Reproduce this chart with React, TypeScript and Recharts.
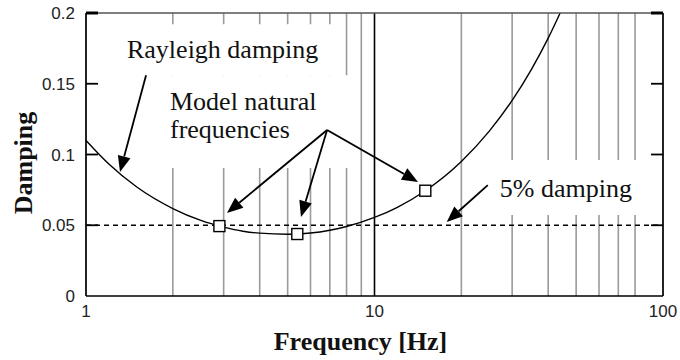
import { ComposedChart, Line, Scatter, XAxis, YAxis, CartesianGrid, ReferenceLine, ReferenceArea, ReferenceDot } from 'recharts';

// Rayleigh damping curve
const freqs = [1, 1.2, 1.5, 2, 2.5, 3, 3.5, 4, 5, 6, 7, 8, 10, 12, 15, 20, 25, 30, 35, 40, 44];
const damping = [0.11, 0.0933, 0.077, 0.0618, 0.0534, 0.0487, 0.0458, 0.0444, 0.0436, 0.0445, 0.0465, 0.0491, 0.0555, 0.0627, 0.0744, 0.0951, 0.1165, 0.1382, 0.1602, 0.1822, 0.2];

// model natural frequencies (square markers)
const modeFreqs = [2.9, 5.4, 15];
const modeDamping = [0.0494, 0.0438, 0.0744];

const gridTicks = [1, 2, 3, 4, 5, 6, 7, 8, 9, 10, 20, 30, 40, 50, 60, 70, 80, 90, 100];
const xLabels = [1, 10, 100];
const yTicks = [0, 0.05, 0.1, 0.15, 0.2];
const yMax = 0.2;
const targetDamping = 0.05;

const curve = freqs.map((f, i) => ({ f, d: damping[i] }));
const modes = modeFreqs.map((f, i) => ({ f, d: modeDamping[i] }));

const W = 680;
const H = 360;
const margin = { top: 13, right: 17, bottom: 0, left: 0 };
const yAxisWidth = 86;
const xAxisHeight = 64;
const plot = {
  left: margin.left + yAxisWidth,
  top: margin.top,
  right: W - margin.right,
  bottom: H - margin.bottom - xAxisHeight,
};

const serif = '"Liberation Serif", "Times New Roman", serif';
const sans = '"Liberation Sans", Arial, sans-serif';

// annotation layout (data coordinates)
const whiteBoxes = [
  { x1: 1.5, x2: 7.6, y1: 0.156, y2: 0.192 },
  { x1: 1.9, x2: 8.5, y1: 0.0905, y2: 0.156 },
  { x1: 24, x2: 98, y1: 0.0572, y2: 0.0961 },
];
const notes = [
  { x: 1.387, y: 0.1682, text: 'Rayleigh damping' },
  { x: 1.955, y: 0.1314, text: 'Model natural' },
  { x: 1.955, y: 0.1117, text: 'frequencies' },
  { x: 27.2, y: 0.07, text: '5% damping' },
];
const arrows = [
  [{ x: 1.615, y: 0.156 }, { x: 1.312, y: 0.0876 }],
  [{ x: 6.85, y: 0.1173 }, { x: 3.08, y: 0.0587 }],
  [{ x: 6.85, y: 0.1173 }, { x: 5.56, y: 0.0558 }],
  [{ x: 6.85, y: 0.1173 }, { x: 14.15, y: 0.0806 }],
  [{ x: 24.7, y: 0.0784 }, { x: 17.8, y: 0.0523 }],
];

const ArrowShape = (props: any) => {
  const { x1, y1, x2, y2 } = props;
  const dx = x2 - x1;
  const dy = y2 - y1;
  const len = Math.sqrt(dx * dx + dy * dy);
  const ux = dx / len;
  const uy = dy / len;
  const hl = 16;
  const hw = 6.5;
  const bx = x2 - ux * hl;
  const by = y2 - uy * hl;
  const pts = `${x2},${y2} ${bx - uy * hw},${by + ux * hw} ${bx + uy * hw},${by - ux * hw}`;
  return (
    <g>
      <line x1={x1} y1={y1} x2={bx} y2={by} stroke="#000" strokeWidth={1.8} />
      <polygon points={pts} fill="#000" />
    </g>
  );
};

const Square = (props: any) => {
  const { cx, cy } = props;
  return <rect x={cx - 5.5} y={cy - 5.5} width={11} height={11} fill="#fff" stroke="#000" strokeWidth={1.4} />;
};

const noteShape = (text: string) => (props: any) => (
  <text x={props.cx} y={props.cy} fontFamily={serif} fontSize={26} fill="#111">
    {text}
  </text>
);

// frame (top/right border + inward ticks) drawn over the chart
function Frame() {
  const yPix = (t: number) => plot.bottom - (t / yMax) * (plot.bottom - plot.top);
  return (
    <svg width={W} height={H} style={{ position: 'absolute', left: 0, top: 0, pointerEvents: 'none' }}>
      <line x1={plot.left} y1={plot.top} x2={plot.right} y2={plot.top} stroke="#555" strokeWidth={1.6} />
      <line x1={plot.right} y1={plot.top} x2={plot.right} y2={plot.bottom} stroke="#000" strokeWidth={1.6} />
      {yTicks.slice(1).map((t) => (
        <g key={t}>
          <line x1={plot.left} y1={yPix(t)} x2={plot.left + 12} y2={yPix(t)} stroke="#000" strokeWidth={t === yMax ? 3 : 1.8} />
          <line x1={plot.right - 12} y1={yPix(t)} x2={plot.right} y2={yPix(t)} stroke="#000" strokeWidth={t === yMax ? 3 : 1.8} />
        </g>
      ))}
    </svg>
  );
}

export default function App() {
  return (
    <div style={{ position: 'absolute', left: 0, top: 0, width: W, height: H, background: '#fff' }}>
      <ComposedChart width={W} height={H} margin={margin}>
        <CartesianGrid horizontal={false} stroke="#9a9a9a" strokeWidth={1.6} />
        {whiteBoxes.map((b, i) => (
          <ReferenceArea key={'b' + i} x1={b.x1} x2={b.x2} y1={b.y1} y2={b.y2} fill="#fff" fillOpacity={1} stroke="none" />
        ))}
        <XAxis
          dataKey="f"
          type="number"
          scale="log"
          domain={[1, 100]}
          ticks={gridTicks}
          allowDataOverflow
          tickLine={false}
          tickSize={0}
          tickMargin={9}
          height={xAxisHeight}
          axisLine={{ stroke: '#000', strokeWidth: 1.6 }}
          tickFormatter={(v: number) => (xLabels.includes(v) ? String(v) : '')}
          tick={{ fontFamily: sans, fontSize: 17, fill: '#222' }}
          label={{ value: 'Frequency [Hz]', position: 'insideBottom', offset: 10, dx: -14, style: { fontFamily: serif, fontSize: 26, fontWeight: 'bold', fill: '#111' } }}
        />
        <YAxis
          type="number"
          domain={[0, yMax]}
          ticks={yTicks}
          width={yAxisWidth}
          tickLine={false}
          tickSize={0}
          tickMargin={11}
          axisLine={{ stroke: '#000', strokeWidth: 1.6 }}
          tick={{ fontFamily: sans, fontSize: 17, fill: '#222' }}
          label={{
            content: () => (
              <text transform="translate(32,163) rotate(-90)" textAnchor="middle" fontFamily={serif} fontSize={26} fontWeight="bold" fill="#111">
                Damping
              </text>
            ),
          }}
        />
        <ReferenceLine x={10} stroke="#000" strokeWidth={1.4} />
        <ReferenceLine y={targetDamping} stroke="#000" strokeWidth={1.5} strokeDasharray="5 4" />
        <Line data={curve} dataKey="d" type="monotone" stroke="#000" strokeWidth={1.4} dot={false} isAnimationActive={false} />
        <Scatter data={modes} dataKey="d" shape={<Square />} isAnimationActive={false} />
        {arrows.map((a, i) => (
          <ReferenceLine key={'a' + i} segment={a} shape={ArrowShape} />
        ))}
        {notes.map((n, i) => (
          <ReferenceDot key={'n' + i} x={n.x} y={n.y} r={0} shape={noteShape(n.text)} />
        ))}
      </ComposedChart>
      <Frame />
    </div>
  );
}
